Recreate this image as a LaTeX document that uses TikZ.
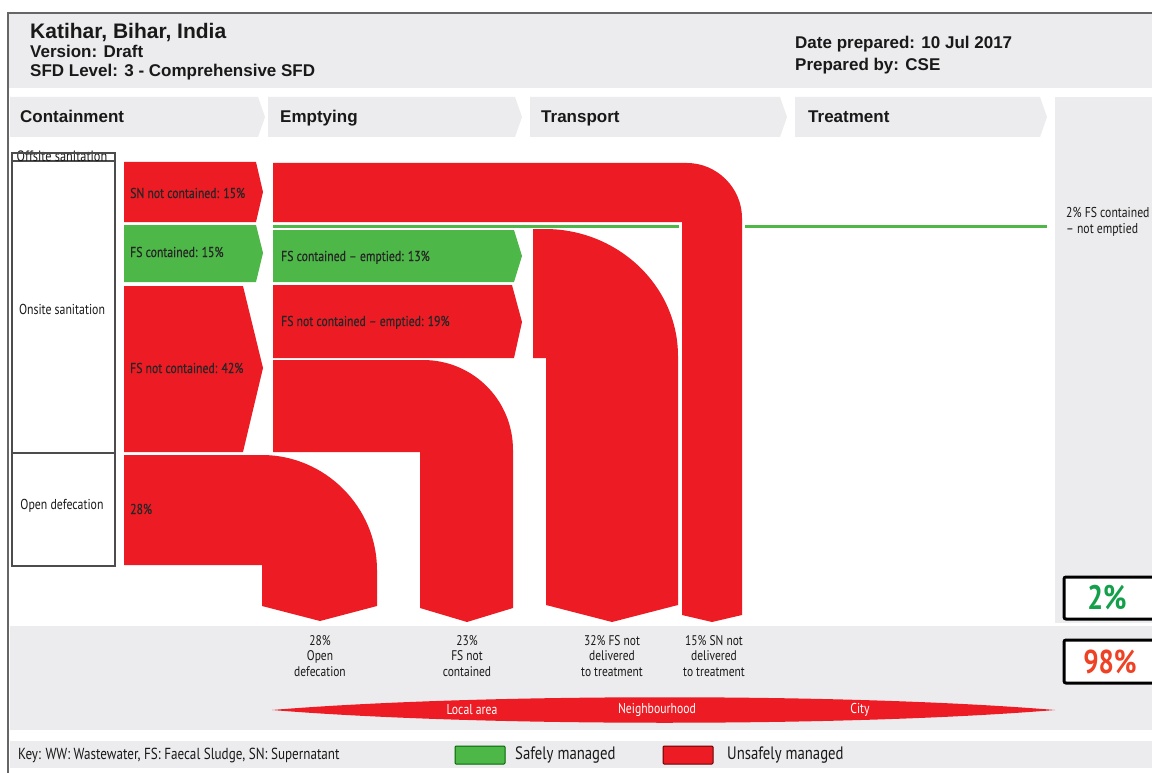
\documentclass[tikz,border=0pt]{standalone}
\usepackage{fontspec}
\setmainfont{Liberation Sans}
\newfontfamily\condfont[FakeStretch=0.82,Ligatures=TeX]{PT Sans}
\newfontfamily\condsemi[FakeStretch=0.82,FakeBold=0.4,Ligatures=TeX]{PT Sans}
\definecolor{sfdred}{RGB}{237,28,36}
\definecolor{sfdgreen}{RGB}{77,184,72}
\definecolor{bandgray}{RGB}{236,236,238}
\definecolor{pctgreen}{RGB}{20,160,75}
\definecolor{pctred}{RGB}{239,65,35}
\tikzset{
  flowred/.style={fill=sfdred,draw=none},
  flowgreen/.style={fill=sfdgreen,draw=none},
  band/.style={fill=bandgray,draw=none},
  stagebox/.style={fill=bandgray,draw=none},
  sanbox/.style={draw=black!70,line width=1.5pt,fill=white},
  headtext/.style={anchor=base west,inner sep=0pt,font=\bfseries\fontsize{17}{19}\selectfont,text=black!90},
  stagetext/.style={anchor=base west,inner sep=0pt,font=\bfseries\fontsize{17}{19}\selectfont,text=black!90},
  flowtext/.style={anchor=base west,inner sep=0pt,font=\condsemi\fontsize{14.3}{16}\selectfont,text=black!85},
  santext/.style={inner sep=0pt,font=\condfont\fontsize{14.4}{16}\selectfont,text=black!90},
  outtext/.style={anchor=north,align=center,inner sep=0pt,font=\condfont\fontsize{14}{15.5}\selectfont,text=black!90},
  zonetext/.style={inner sep=0pt,font=\condfont\fontsize{14.3}{16}\selectfont,text=white},
  pctbox/.style={draw=black,line width=3pt,rounded corners=2pt,fill=white},
  keytext/.style={anchor=west,inner sep=0pt,font=\condfont\fontsize{18}{20}\selectfont,text=black!90}
}

\begin{document}
\begin{tikzpicture}[x=1pt,y=-1pt]
  \useasboundingbox (0,0) rectangle (1152,773);
  \fill[white] (0,0) rectangle (1152,773);

  \fill[band] (9,14) rectangle (1152,88);
  \draw[black!60,line width=1.5pt] (8,773) -- (8,13) -- (1152,13);
  \node[headtext,font=\bfseries\fontsize{21}{23}\selectfont] (city) at (30,38.5) {Katihar, Bihar, India};
  \node[headtext] (version) at (30,58) {Version: Draft};
  \node[headtext] (level) at (30,77) {SFD Level: 3 - Comprehensive SFD};
  \node[headtext] (date) at (795,49) {Date prepared: 10 Jul 2017};
  \node[headtext] (author) at (795,71) {Prepared by: CSE};

  \fill[stagebox] (10,97) -- (258,97) -- (265,117) -- (258,137) -- (10,137) -- cycle;
  \fill[stagebox] (268,97) -- (515,97) -- (522,117) -- (515,137) -- (268,137) -- cycle;
  \fill[stagebox] (530,97) -- (780,97) -- (787,117) -- (780,137) -- (530,137) -- cycle;
  \fill[stagebox] (795,97) -- (1040,97) -- (1047,117) -- (1040,137) -- (795,137) -- cycle;
  \fill[band] (1055,97) rectangle (1152,623);
  \node[stagetext] (containment) at (20,123) {Containment};
  \node[stagetext] (emptying) at (280,123) {Emptying};
  \node[stagetext] (transport) at (541,123) {Transport};
  \node[stagetext] (treatment) at (808,123) {Treatment};

  \fill[band] (10,626) rectangle (1152,730);
  \fill[band] (10,741) rectangle (1152,768);

  \draw[sanbox] (12,153) rectangle (115,161);
  \draw[sanbox] (12,161) rectangle (115,453);
  \draw[sanbox] (12,453) rectangle (115,566);
  \node[santext,font=\condfont\fontsize{15}{16}\selectfont] (offsite) at (62,156) {Offsite sanitation};
  \draw[black!70,line width=1.5pt] (12,153) -- (115,153);
  \node[santext] (onsite) at (62,309) {Onsite sanitation};
  \node[santext] (opendef) at (62,506) {Open defecation};

  \coordinate (a1) at (273,163) {};
  \coordinate (a2) at (687,163) {};
  \coordinate (a3) at (742,218) {};
  \coordinate (a4) at (742,615) {};
  \coordinate (a5) at (712,622) {};
  \coordinate (a6) at (682,615) {};
  \coordinate (a7) at (682,222) {};
  \coordinate (a8) at (273,222) {};

  \coordinate (b1) at (533,229) {};
  \coordinate (b2) at (545,229) {};
  \coordinate (b3) at (678,356) {};
  \coordinate (b4) at (678,605) {};
  \coordinate (b5) at (612,622) {};
  \coordinate (b6) at (546,605) {};
  \coordinate (b7) at (546,358) {};
  \coordinate (b8) at (533,358) {};

  \coordinate (c1) at (273,360) {};
  \coordinate (c2) at (423,360) {};
  \coordinate (c3) at (513,450) {};
  \coordinate (c4) at (513,608) {};
  \coordinate (c5) at (467,622) {};
  \coordinate (c6) at (420,608) {};
  \coordinate (c7) at (420,452) {};
  \coordinate (c8) at (273,452) {};

  \coordinate (d1) at (124,455) {};
  \coordinate (d2) at (262,455) {};
  \coordinate (d3) at (377,570) {};
  \coordinate (d4) at (377,606) {};
  \coordinate (d5) at (320,621) {};
  \coordinate (d6) at (262,606) {};
  \coordinate (d7) at (262,565) {};
  \coordinate (d8) at (124,565) {};

  \fill[flowred] (124,162) -- (256,162) -- (263,192) -- (256,222) -- (124,222) -- cycle;
  \fill[flowgreen] (124,225) -- (256,225) -- (263,253) -- (256,282) -- (124,282) -- cycle;
  \fill[flowred] (124,286) -- (243,286) -- (263,368) -- (243,452) -- (124,452) -- cycle;

  \fill[flowgreen] (273,230) -- (514,230) -- (522,256) -- (514,282) -- (273,282) -- cycle;
  \fill[flowred] (273,285) -- (512,285) -- (522,322) -- (514,358) -- (273,358) -- cycle;

  \draw[sfdgreen,line width=3pt] (273,226.5) -- (679,226.5);
  \draw[sfdgreen,line width=3pt] (745,226.5) -- (1047,226.5);

  \fill[flowred] (a1) -- (a2)
  .. controls (717,163) and (742,188) .. (a3)
  -- (a4) -- (a5) -- (a6) -- (a7) -- (a8) -- cycle;

  \fill[flowred] (b1) -- (b2)
  .. controls (618,229) and (678,286) .. (b3)
  -- (b4) -- (b5) -- (b6) -- (b7) -- (b8) -- cycle;

  \fill[flowred] (c1) -- (c2)
  .. controls (473,360) and (513,400) .. (c3)
  -- (c4) -- (c5) -- (c6) -- (c7) -- (c8) -- cycle;

  \fill[flowred] (d1) -- (d2)
  .. controls (325,455) and (377,507) .. (d3)
  -- (d4) -- (d5) -- (d6) -- (d7) -- (d8) -- cycle;

  \node[flowtext] (sncont) at (130,198) {SN not contained: 15\%};
  \node[flowtext] (fscont) at (130,257) {FS contained: 15\%};
  \node[flowtext] (fsncont) at (130,373) {FS not contained: 42\%};
  \node[flowtext] (odpct) at (130,514) {28\%};
  \node[flowtext] (fscemp) at (281,261) {FS contained -- emptied: 13\%};
  \node[flowtext] (fsncemp) at (281,326) {FS not contained -- emptied: 19\%};

  \node[anchor=north west,inner sep=0pt,align=left,font=\condfont\fontsize{14.3}{16}\selectfont,text=black!90] (notempt) at (1066,207) {2\% FS contained\\-- not emptied};

  \node[outtext] (odout) at (320,635) {28\%\\Open\\defecation};
  \node[outtext] (fsout) at (467,635) {23\%\\FS not\\contained};
  \node[outtext] (fsdel) at (612,635) {32\% FS not\\delivered\\to treatment};
  \node[outtext] (sndel) at (714,635) {15\% SN not\\delivered\\to treatment};

  \fill[flowred] (272,710) .. controls (480,693) and (850,693) .. (1055,710)
  .. controls (850,727) and (480,727) .. (272,710) -- cycle;
  \node[zonetext] (local) at (472,710) {Local area};
  \node[zonetext] (neigh) at (657,710) {Neighbourhood};
  \node[zonetext] (cityzone) at (860,710) {City};

  \draw[pctbox] (1064,577) rectangle (1165,619);
  \node[inner sep=0pt,font=\condfont\bfseries\fontsize{34}{36}\selectfont,text=pctgreen] (safe) at (1107,598) {2\%};
  \draw[pctbox] (1064,640) rectangle (1165,683);
  \node[inner sep=0pt,font=\condfont\bfseries\fontsize{33}{35}\selectfont,text=pctred] (unsafe) at (1110,662) {98\%};

  \node[keytext,font=\condfont\fontsize{16}{18}\selectfont] (key) at (18,755) {Key: WW: Wastewater, FS: Faecal Sludge, SN: Supernatant};
  \draw[fill=sfdgreen,draw=black!60!green,line width=1pt,rounded corners=1pt] (455,746) rectangle (505,764);
  \node[keytext] (safekey) at (515,755) {Safely managed};
  \draw[fill=sfdred,draw=black!60!red,line width=1pt,rounded corners=1pt] (663,746) rectangle (713,764);
  \node[keytext] (unsafekey) at (727,755) {Unsafely managed};
\end{tikzpicture}
\end{document}
